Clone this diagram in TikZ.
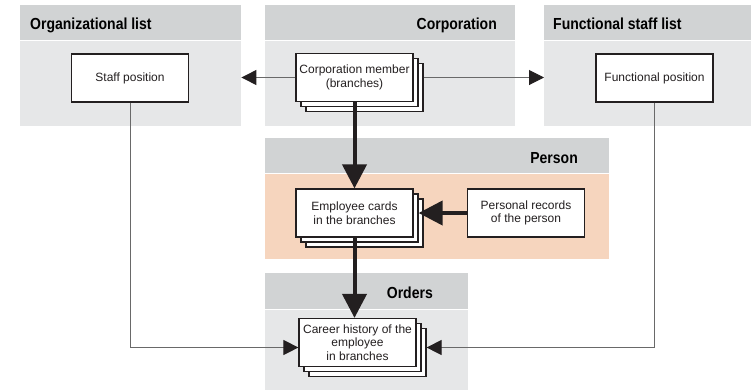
\documentclass[tikz,border=0pt]{standalone}
\usepackage{fontspec}
\setmainfont{Liberation Sans}
\newfontfamily\headfont[FakeStretch=0.875]{Liberation Sans}
\usetikzlibrary{arrows.meta,shadows,positioning}

\definecolor{headgray}{RGB}{209,211,212}
\definecolor{bodygray}{RGB}{230,231,232}
\definecolor{bodypeach}{RGB}{246,213,190}
\definecolor{inkblack}{RGB}{35,31,32}
\definecolor{linegray}{RGB}{105,105,105}

\tikzset{
  panelhead/.style={fill=headgray, inner sep=0pt, anchor=north west},
  panelbody/.style={fill=bodygray, inner sep=0pt},
  paneltitle/.style={font=\headfont\bfseries\fontsize{16}{18}\selectfont, text=black, inner sep=0pt},
  card/.style={draw=inkblack, line width=1.2pt, fill=white, minimum width=117pt, minimum height=48pt,
    inner sep=1pt, align=center, font=\fontsize{12}{13.5}\selectfont, text=inkblack},
  cardstack/.style={card, double copy shadow={shadow xshift=5pt, shadow yshift=-5pt,
    draw=inkblack, fill=white, line width=1.2pt}},
  thinlink/.style={draw=linegray, line width=1pt, -{Triangle[length=15pt,width=15pt,color=inkblack]}},
  thicklink/.style={draw=inkblack, line width=4pt, -{Triangle[length=24pt,width=24pt]}},
}

\begin{document}
\begin{tikzpicture}[x=1pt,y=-1pt]
\useasboundingbox (0,0) rectangle (751,389);

% Panels
\node[panelhead, minimum width=221pt, minimum height=35pt] (orghead) at (20,5) {};
\node[panelbody, minimum width=221pt, minimum height=85pt, below=0pt of orghead] (orgbody) {};
\node[panelhead, minimum width=250pt, minimum height=35pt] (corphead) at (265,5) {};
\node[panelbody, minimum width=250pt, minimum height=85pt, below=0pt of corphead] (corpbody) {};
\node[panelhead, minimum width=207pt, minimum height=35pt] (funchead) at (544,5) {};
\node[panelbody, minimum width=207pt, minimum height=85pt, below=0pt of funchead] (funcbody) {};
\node[panelhead, minimum width=344pt, minimum height=35pt] (pershead) at (265,138) {};
\node[panelbody, fill=bodypeach, minimum width=344pt, minimum height=85pt, below=0pt of pershead] (persbody) {};
\node[panelhead, minimum width=203pt, minimum height=36pt] (ordhead) at (265,273) {};
\node[panelbody, minimum width=203pt, minimum height=80pt, below=0pt of ordhead] (ordbody) {};

% Panel titles
\node[paneltitle, anchor=base west] (orgtitle) at (30,29.5) {Organizational list};
\node[paneltitle, anchor=base east] (corptitle) at (497,29.5) {Corporation};
\node[paneltitle, anchor=base west] (functitle) at (553,29.5) {Functional staff list};
\node[paneltitle, anchor=base east] (perstitle) at (578,163) {Person};
\node[paneltitle, anchor=base east] (ordtitle) at (433,298) {Orders};

% Cards
\node[card] (staffpos) at (130,78) {Staff position};
\node[cardstack] (member) at (354.5,77.5) {Corporation member\\(branches)};
\node[card] (funcpos) at (654.5,78) {Functional position};
\node[cardstack] (cards) at (354.5,213) {Employee cards\\in the branches};
\node[card] (records) at (526,213) {Personal records\\of the person};
\node[cardstack] (career) at (357.5,342.5) {Career history of the\\employee\\in branches};

% Links
\draw[thinlink] (member.west) -- (member.west -| orgbody.east);
\draw[thinlink] ([xshift=10pt]member.east) -- (member.east -| funcbody.west);
\draw[thicklink] (member.south) -- (cards.north);
\draw[thicklink] (records.west) -- ([xshift=5pt]cards.east);
\draw[thicklink] (cards.south) -- (cards.south |- career.north);
\draw[thinlink] (staffpos.south) |- ([yshift=-5pt]career.west);
\draw[thinlink] (funcpos.south) |- ([xshift=10pt,yshift=-5pt]career.east);
\end{tikzpicture}
\end{document}
